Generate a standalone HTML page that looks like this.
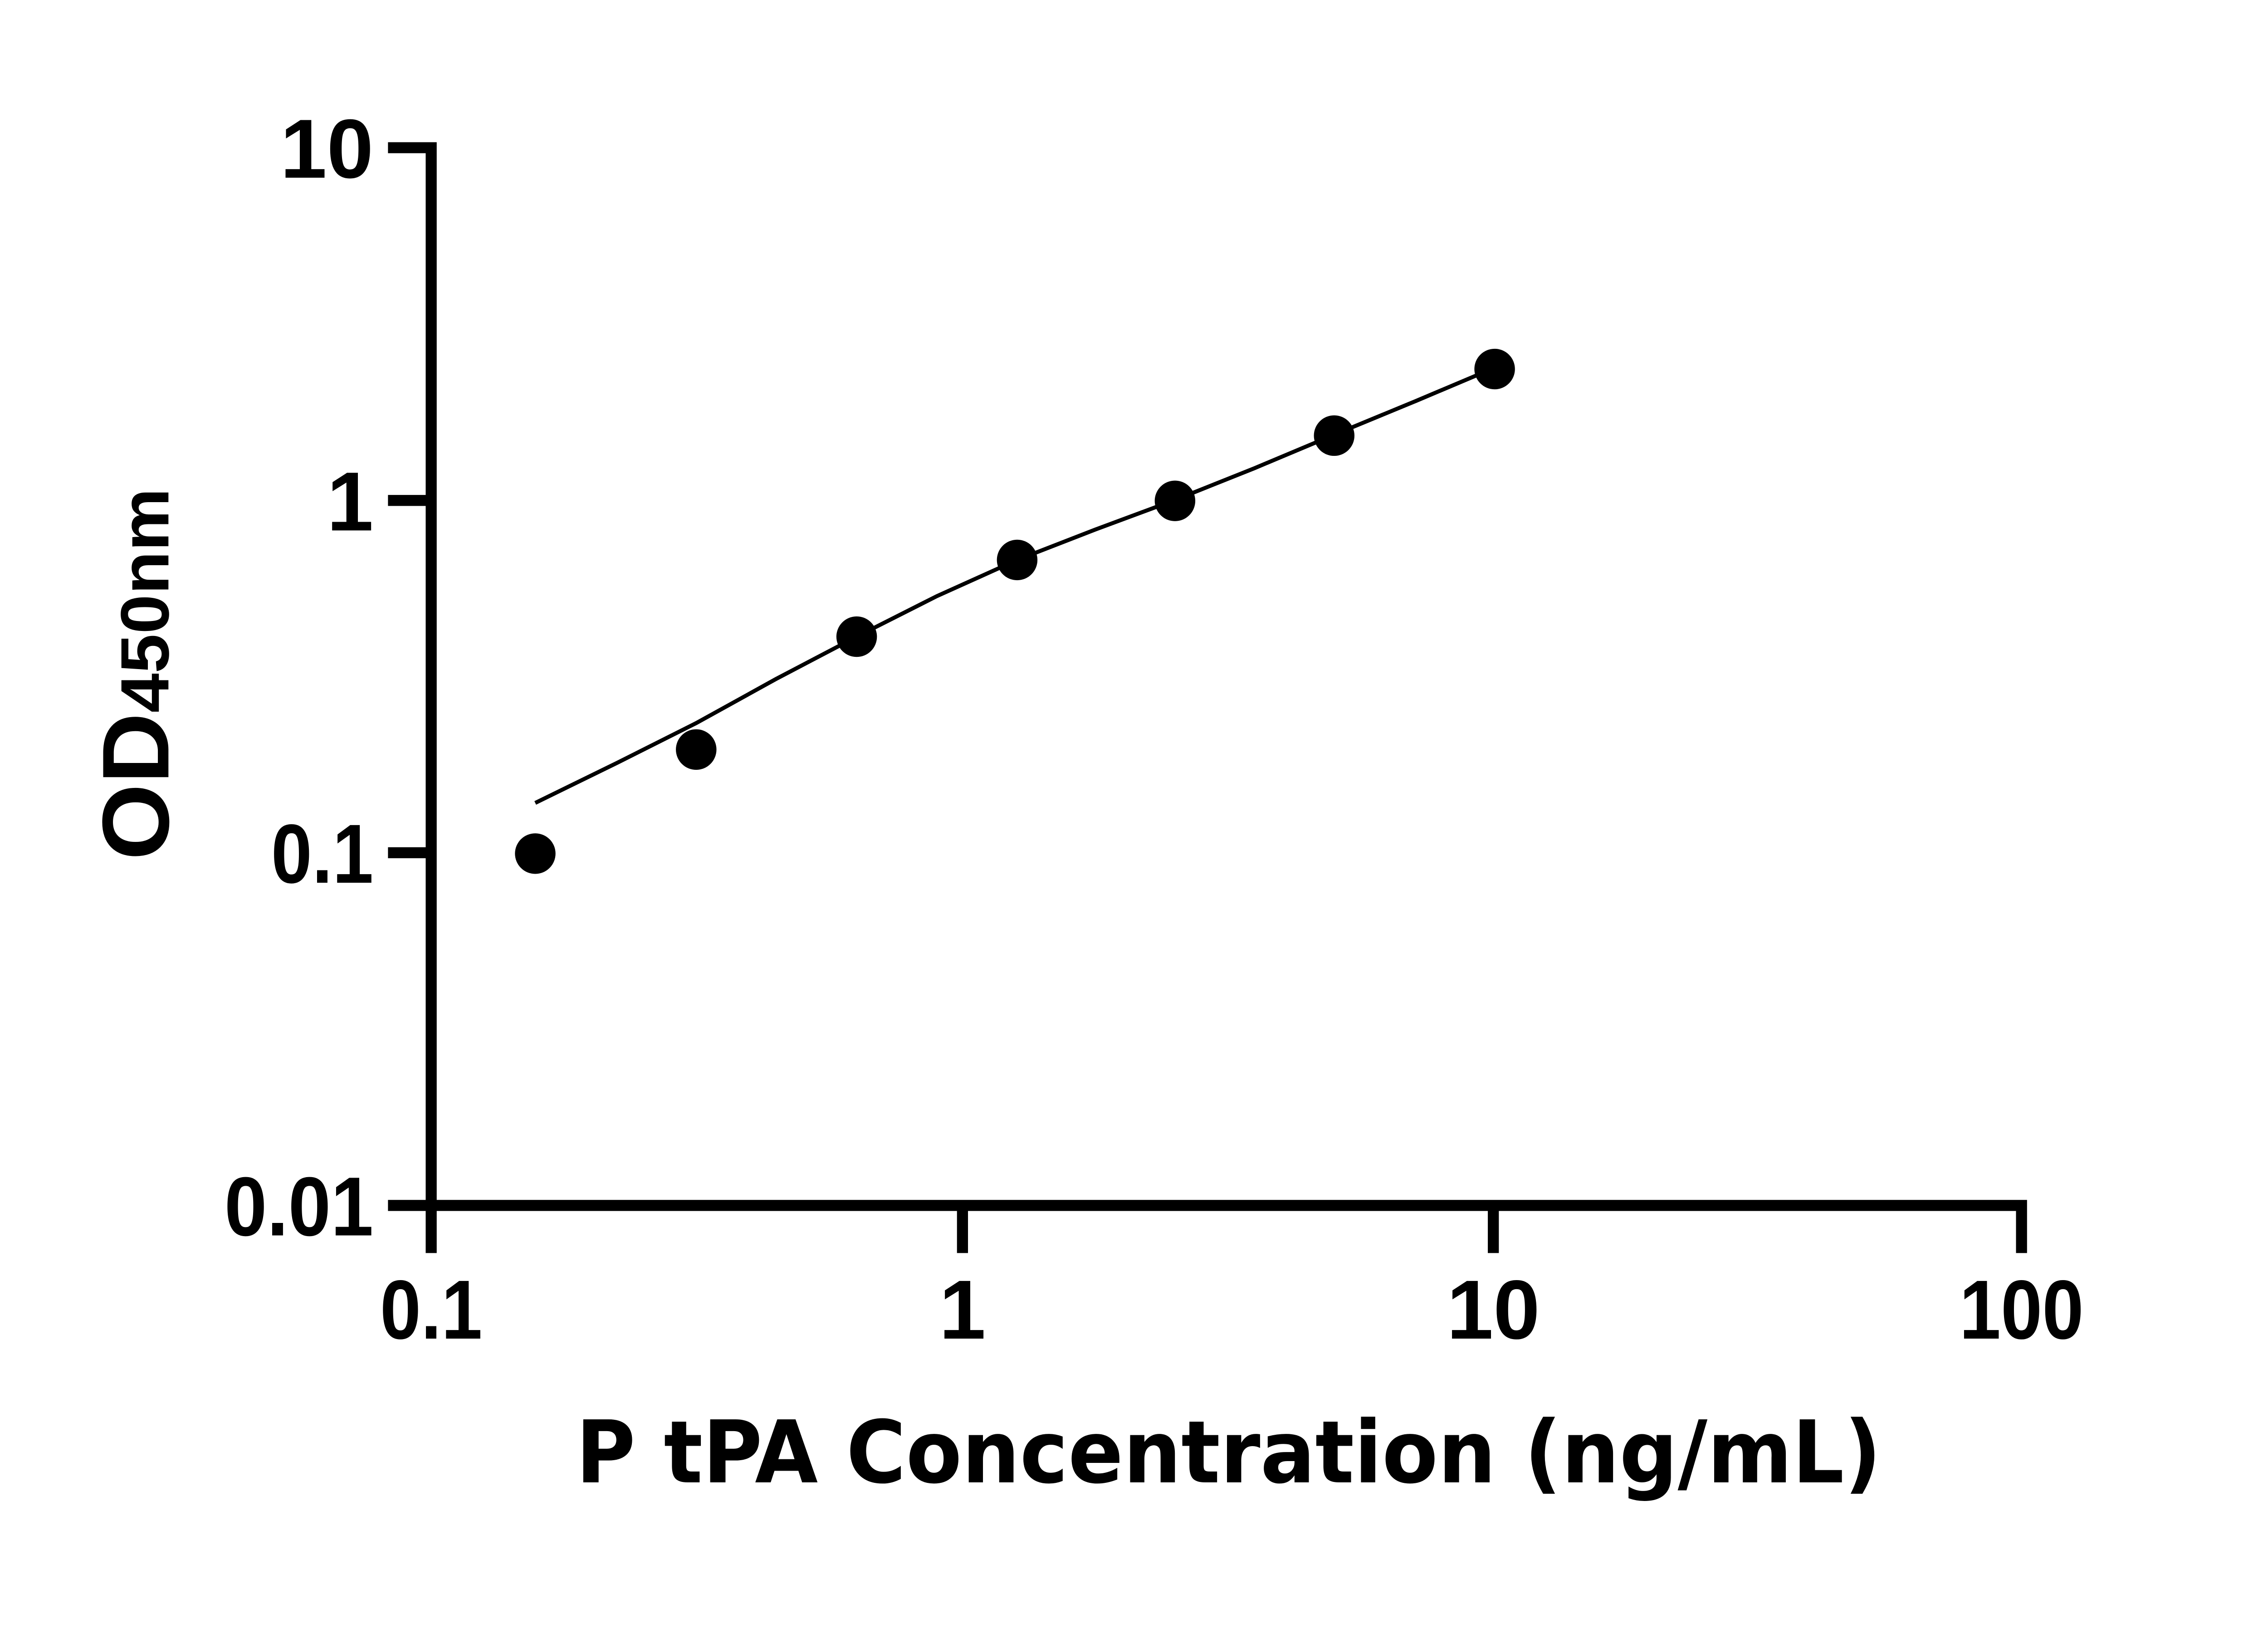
<!DOCTYPE html>
<html><head><meta charset="utf-8"><style>html,body{margin:0;padding:0;background:#fff}svg{display:block}</style></head>
<body>
<svg width="5130" height="3600" viewBox="0 0 5130 3600" xmlns="http://www.w3.org/2000/svg">
<rect width="5130" height="3600" fill="#fff"/>
<g transform="scale(0.972)">
<g stroke="#000" stroke-width="25" fill="none" stroke-linecap="butt">
  <path d="M880,335 H978 V2734"/>
  <path d="M880,1135 H978"/>
  <path d="M880,1934 H978"/>
  <path d="M880,2734 H4585 V2842"/>
  <path d="M978,2722 V2842"/>
  <path d="M2183,2734 V2842"/>
  <path d="M3387,2734 V2842"/>
</g>
<polyline points="1214,1821 1400,1730 1579,1640 1760,1540 1943,1444 2125,1352 2307,1270 2487,1200 2665,1134 2845,1062 3026,986 3210,910 3390,834" fill="none" stroke="#000" stroke-width="9"/>
<g fill="#000">
  <circle cx="1214" cy="1936" r="46"/>
  <circle cx="1579" cy="1700" r="46"/>
  <circle cx="1943" cy="1444" r="46"/>
  <circle cx="2307" cy="1270" r="46"/>
  <circle cx="2665" cy="1136" r="46"/>
  <circle cx="3026" cy="988" r="46"/>
  <circle cx="3390" cy="837" r="46"/>
</g>
<g font-family="Liberation Sans, Arial, sans-serif" font-weight="bold" font-size="190" fill="#000">
  <text x="847" y="403" text-anchor="end">10</text>
  <text x="847" y="1203" text-anchor="end">1</text>
  <text x="847" y="2002" text-anchor="end" textLength="232" lengthAdjust="spacingAndGlyphs">0.1</text>
  <text x="847" y="2802" text-anchor="end" textLength="338" lengthAdjust="spacingAndGlyphs">0.01</text>
  <text x="978" y="3036" text-anchor="middle" textLength="232" lengthAdjust="spacingAndGlyphs">0.1</text>
  <text x="2183" y="3036" text-anchor="middle">1</text>
  <text x="3387" y="3036" text-anchor="middle">10</text>
  <text x="4585" y="3036" text-anchor="middle" textLength="282" lengthAdjust="spacingAndGlyphs">100</text>
</g>
<text x="1306" y="3362" font-family="DejaVu Sans, Liberation Sans, sans-serif" font-weight="bold" font-size="196" textLength="2961" lengthAdjust="spacingAndGlyphs" fill="#000">P tPA Concentration (ng/mL)</text>
<text transform="translate(382,1951) rotate(-90)" font-family="Liberation Sans, Arial, sans-serif" font-weight="bold" fill="#000" textLength="844" lengthAdjust="spacingAndGlyphs"><tspan font-size="215">OD</tspan><tspan font-size="155">450nm</tspan></text>
</g>
</svg>
</body></html>
